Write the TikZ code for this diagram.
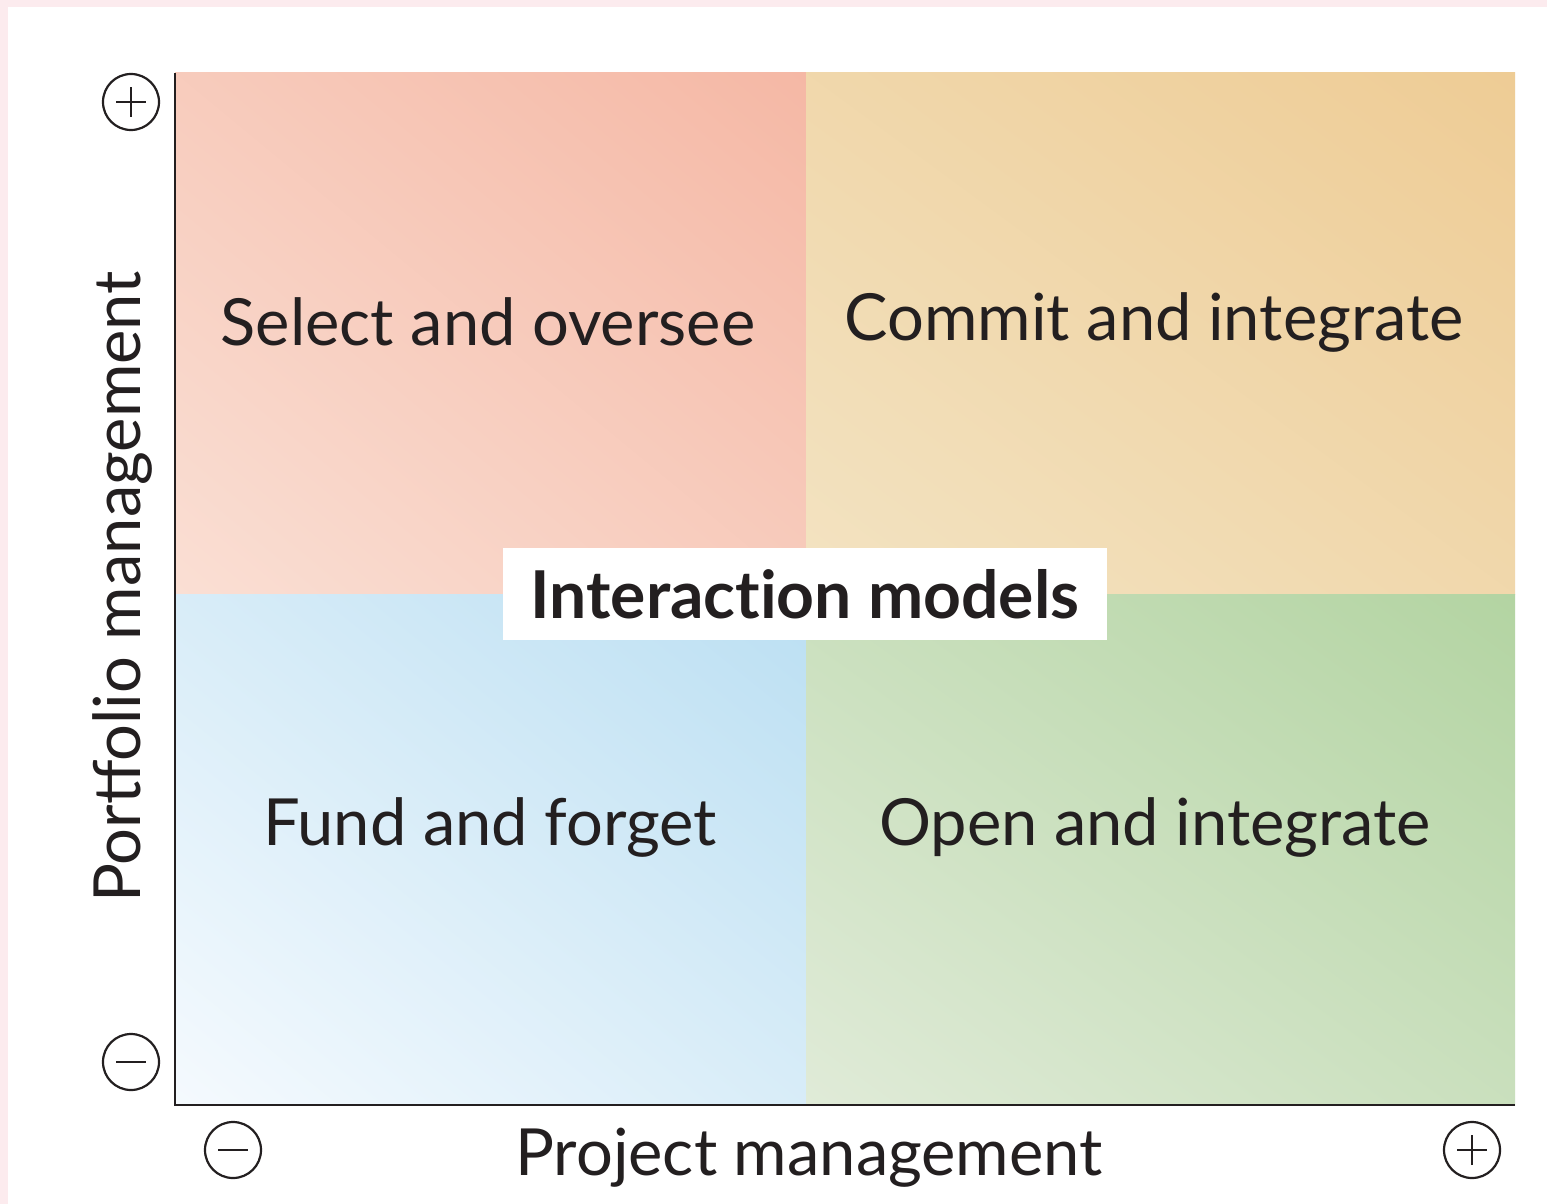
\documentclass[tikz,border=0pt]{standalone}
\usepackage{fontspec}
\usetikzlibrary{shadings}
\setmainfont{Lato}
\newfontfamily\latobold[Ligatures=NoCommon]{Lato Bold}
\definecolor{pinkedge}{HTML}{FCEBEE}
\definecolor{tlA}{HTML}{FADFD4}
\definecolor{tlB}{HTML}{F5B8A5}
\definecolor{trA}{HTML}{F3E3C2}
\definecolor{trB}{HTML}{EECC95}
\definecolor{blA}{HTML}{F5FAFE}
\definecolor{blB}{HTML}{BBDFF2}
\definecolor{brA}{HTML}{E0EBD8}
\definecolor{brB}{HTML}{B3D4A2}
\definecolor{inktext}{HTML}{231F20}
\begin{document}
\begin{tikzpicture}[x=1pt,y=-1pt,
  quadlabel/.style={font=\fontsize{65}{76}\selectfont, text=inktext, inner sep=0pt},
  axislabel/.style={font=\fontsize{65}{76}\selectfont, text=inktext, inner sep=0pt},
  signcircle/.style={circle, draw=inktext, line width=2.2pt, minimum size=56pt, inner sep=0pt},
  axisline/.style={draw=inktext, line width=2.6pt},
  signstroke/.style={draw=inktext, line width=2.2pt}]
\useasboundingbox (0,0) rectangle (1547,1204);
\fill[white] (0,0) rectangle (1547,1204);
\fill[pinkedge] (0,0) rectangle (1547,7);
\fill[pinkedge] (0,0) rectangle (8,1204);
% quadrants
\shade[lower left=tlA, upper right=tlB, upper left={tlA!50!tlB}, lower right={tlA!50!tlB}] (175,73) rectangle (806,594);
\shade[lower left=trA, upper right=trB, upper left={trA!50!trB}, lower right={trA!50!trB}] (806,73) rectangle (1515,594);
\shade[lower left=blA, upper right=blB, upper left={blA!50!blB}, lower right={blA!50!blB}] (175,594) rectangle (806,1105);
\shade[lower left=brA, upper right=brB, upper left={brA!50!brB}, lower right={brA!50!brB}] (806,594) rectangle (1515,1105);
% axes
\coordinate (top) at (175,73);
\coordinate (origin) at (175,1105);
\coordinate (right) at (1515,1105);
\draw[axisline] (top) -- (origin) -- (right);
% quadrant labels
\node[quadlabel] (so) at (488,322) {Select and oversee};
\node[quadlabel] (ci) at (1154,322) {Commit and integrate};
\node[quadlabel] (ff) at (490,827) {Fund and forget};
\node[quadlabel] (oi) at (1155,827) {Open and integrate};
% central label
\node[fill=white, minimum width=604pt, minimum height=92pt, inner sep=0pt,
      font=\latobold\fontsize{66}{76}\selectfont, text=inktext] (im) at (805,594) {Interaction models};
% axis labels
\node[axislabel, rotate=90] (pm) at (122,587) {Portfolio management};
\node[axislabel] (prm) at (809,1158) {Project management};
% sign circles
\node[signcircle] (yplus) at (131,102) {};
\node[signcircle] (yminus) at (131,1062) {};
\node[signcircle] (xminus) at (233,1150) {};
\node[signcircle] (xplus) at (1472,1150) {};
\draw[signstroke] ([xshift=-15pt]yplus.center) -- ([xshift=15pt]yplus.center);
\draw[signstroke] ([yshift=-15pt]yplus.center) -- ([yshift=15pt]yplus.center);
\draw[signstroke] ([xshift=-15pt]xplus.center) -- ([xshift=15pt]xplus.center);
\draw[signstroke] ([yshift=-15pt]xplus.center) -- ([yshift=15pt]xplus.center);
\draw[signstroke] ([xshift=-15pt]yminus.center) -- ([xshift=15pt]yminus.center);
\draw[signstroke] ([xshift=-15pt]xminus.center) -- ([xshift=15pt]xminus.center);
\end{tikzpicture}
\end{document}
